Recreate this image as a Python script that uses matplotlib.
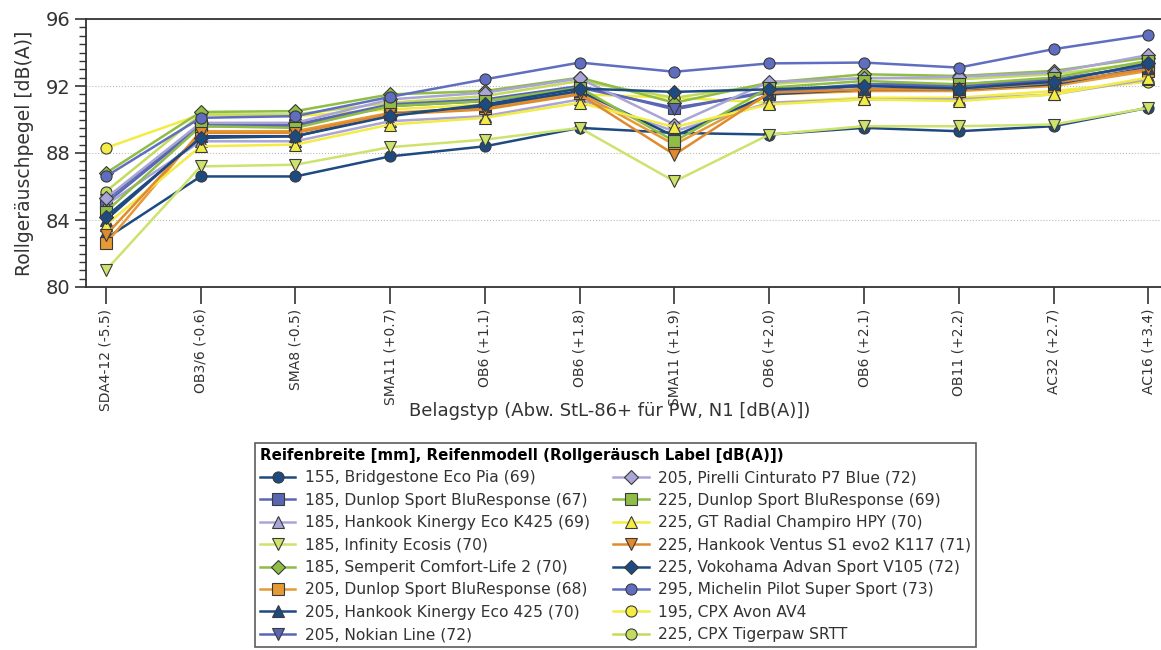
import numpy as np
import matplotlib
matplotlib.use("Agg")
import matplotlib.pyplot as plt
from matplotlib.ticker import MultipleLocator

# Belagstypen (x-Achse)
belag = ["SDA4-12 (-5.5)", "OB3/6 (-0.6)", "SMA8 (-0.5)", "SMA11 (+0.7)", "OB6 (+1.1)",
         "OB6 (+1.8)", "SMA11 (+1.9)", "OB6 (+2.0)", "OB6 (+2.1)", "OB11 (+2.2)",
         "AC32 (+2.7)", "AC16 (+3.4)"]

# Reifen (Legende)
reifen = ["155, Bridgestone Eco Pia (69)",
          "185, Dunlop Sport BluResponse (67)",
          "185, Hankook Kinergy Eco K425 (69)",
          "185, Infinity Ecosis (70)",
          "185, Semperit Comfort-Life 2 (70)",
          "205, Dunlop Sport BluResponse (68)",
          "205, Hankook Kinergy Eco 425 (70)",
          "205, Nokian Line (72)",
          "205, Pirelli Cinturato P7 Blue (72)",
          "225, Dunlop Sport BluResponse (69)",
          "225, GT Radial Champiro HPY (70)",
          "225, Hankook Ventus S1 evo2 K117 (71)",
          "225, Vokohama Advan Sport V105 (72)",
          "295, Michelin Pilot Super Sport (73)",
          "195, CPX Avon AV4",
          "225, CPX Tigerpaw SRTT"]

# Rollgeräuschpegel [dB(A)]
bridgestone_155 = [82.9, 86.6, 86.6, 87.8, 88.4, 89.5, 89.2, 89.1, 89.5, 89.3, 89.6, 90.7]
dunlop_185 = [85.0, 89.6, 89.6, 90.8, 91.1, 91.9, 90.7, 91.6, 92.0, 92.0, 92.3, 93.3]
hankook_k425_185 = [84.9, 88.7, 88.7, 89.9, 90.2, 91.2, 89.3, 91.0, 91.2, 91.2, 91.5, 92.4]
infinity_185 = [81.0, 87.2, 87.3, 88.35, 88.8, 89.5, 86.3, 89.1, 89.6, 89.6, 89.7, 90.7]
semperit_185 = [86.8, 90.45, 90.5, 91.5, 91.7, 92.5, 91.0, 92.2, 92.7, 92.6, 92.9, 93.7]
dunlop_205 = [82.6, 89.3, 89.3, 90.4, 90.7, 91.6, 88.5, 91.5, 91.7, 91.7, 92.0, 92.9]
hankook_425_205 = [84.0, 89.0, 89.0, 90.3, 90.8, 91.7, 89.0, 91.5, 91.8, 91.8, 92.1, 93.1]
nokian_205 = [85.2, 89.7, 89.7, 90.9, 91.2, 92.0, 90.6, 91.7, 92.1, 92.1, 92.4, 93.2]
pirelli_205 = [85.3, 89.8, 89.8, 91.2, 91.6, 92.45, 89.7, 92.25, 92.45, 92.55, 92.8, 93.85]
dunlop_225 = [84.5, 89.6, 89.5, 90.8, 91.1, 91.9, 88.7, 91.9, 92.3, 92.1, 92.5, 93.5]
gt_radial_225 = [83.7, 88.4, 88.5, 89.7, 90.1, 91.0, 89.55, 90.9, 91.2, 91.1, 91.5, 92.5]
ventus_225 = [83.1, 89.2, 89.2, 90.3, 90.6, 91.5, 87.9, 91.6, 91.8, 91.8, 92.2, 93.0]
yokohama_225 = [84.2, 88.9, 89.0, 90.2, 90.9, 91.85, 91.65, 91.8, 92.0, 91.85, 92.25, 93.35]
michelin_295 = [86.6, 90.1, 90.2, 91.35, 92.4, 93.4, 92.85, 93.35, 93.4, 93.1, 94.2, 95.05]
cpx_avon_195 = [88.3, 90.3, 90.2, 90.6, 90.9, 91.5, 91.3, 91.0, 91.3, 91.3, 91.7, 92.25]
cpx_tigerpaw_225 = [85.7, 90.3, 90.3, 91.0, 91.4, 92.3, 91.3, 92.1, 92.5, 92.4, 92.7, 93.4]

werte = [bridgestone_155, dunlop_185, hankook_k425_185, infinity_185, semperit_185,
         dunlop_205, hankook_425_205, nokian_205, pirelli_205, dunlop_225,
         gt_radial_225, ventus_225, yokohama_225, michelin_295, cpx_avon_195,
         cpx_tigerpaw_225]

farben = ["#1e4a82", "#5a66b4", "#a9a5d6", "#cde36e", "#8fbd45", "#e59a35",
          "#1e4a82", "#5a66b4", "#a9a5d6", "#8fbd45", "#f2ec45", "#e08a30",
          "#1e4a82", "#5f6ec0", "#f2ec45", "#c3db5f"]
marker = ["o", "s", "^", "v", "D", "s", "^", "v", "D", "s", "^", "v", "D", "o", "o", "o"]
# CPX-Reifen liegen hinten
ebene = [3, 3, 3, 3, 3, 3, 3, 3, 3, 3, 3, 3, 3.5, 3.6, 2.1, 2.2]

fig = plt.figure(figsize=(11.61, 6.5), dpi=100)
ax = fig.add_axes([86 / 1161, 1 - 287 / 650, (1172 - 86) / 1161, (287 - 19) / 650])

x = np.arange(len(belag))
for y, name, c, m, z in zip(werte, reifen, farben, marker, ebene):
    ms = 7.5 if m == "D" else 8
    ax.plot(x, y, color=c, lw=1.8, marker=m, ms=ms, mfc=c, mec="#3a3a3a", mew=0.8,
            label=name, zorder=z)

ax.set_xlim(-0.21, 11.25)
ax.set_ylim(80, 96)
ax.yaxis.set_major_locator(MultipleLocator(4))
ax.yaxis.set_minor_locator(MultipleLocator(0.5))
ax.set_xticks(x)
ax.set_xticklabels(belag, rotation=90, fontsize=10, color="#333333")
ax.tick_params(axis="x", length=12, width=1.2, color="#333333")
ax.tick_params(axis="y", which="major", length=8, width=1.2, color="#333333",
               labelsize=14, labelcolor="#333333")
ax.tick_params(axis="y", which="minor", length=5, width=1.0, color="#333333")
for s in ax.spines.values():
    s.set_color("#333333")
    s.set_linewidth(1.3)
ax.grid(axis="y", which="major", color="#bbbbbb", ls=":", lw=0.8)

ax.set_ylabel("Rollgeräuschpegel [dB(A)]", fontsize=13.5, color="#333333", labelpad=8)
fig.text(610 / 1161, 1 - 411 / 650, "Belagstyp (Abw. StL-86+ für PW, N1 [dB(A)])",
         ha="center", va="center", fontsize=13, color="#333333")

leg = fig.legend(loc="upper left", bbox_to_anchor=(255 / 1161, 1 - 443 / 650), ncol=2,
                 title="Reifenbreite [mm], Reifenmodell (Rollgeräusch Label [dB(A)])",
                 fontsize=11.2, title_fontsize=10.8, frameon=True, fancybox=False,
                 edgecolor="#333333", handlelength=2.3, handletextpad=0.6,
                 columnspacing=1.5, labelspacing=0.48, borderpad=0.3,
                 borderaxespad=0)
leg.get_title().set_fontweight("bold")
leg._legend_box.align = "left"
leg.get_frame().set_linewidth(1.2)
for t in leg.get_texts():
    t.set_color("#333333")

fig.savefig("out.png", dpi=100)
